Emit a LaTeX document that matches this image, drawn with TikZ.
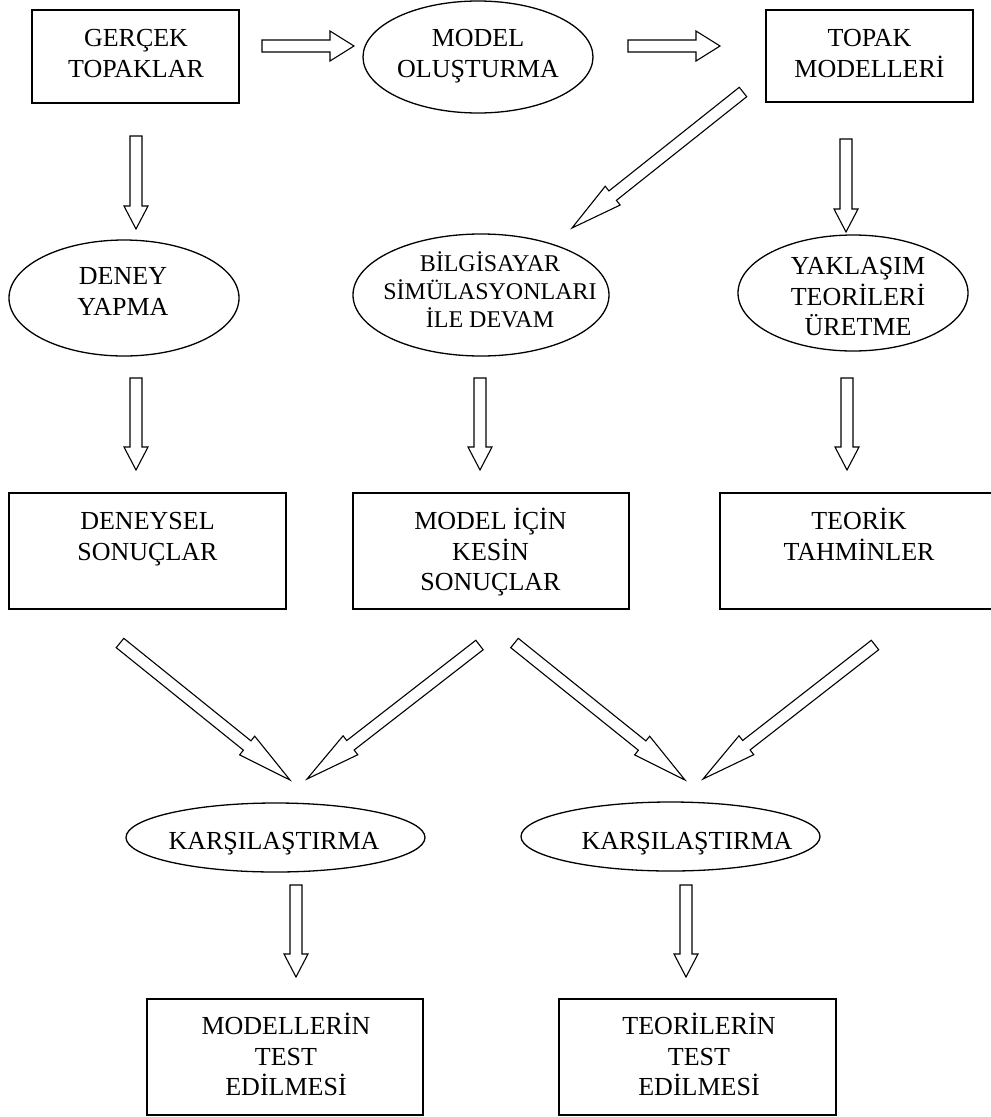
\documentclass[tikz,border=0pt]{standalone}
\usepackage{fontspec}
\setmainfont{Liberation Serif}
\usetikzlibrary{shapes.geometric,calc}
\newcommand{\lines}[1]{\begin{tabular}{@{}c@{}}#1\end{tabular}}
\newcommand{\blkarrow}[4]{%
  \path ($(#2)!#3!(#1)$) coordinate (hb);
  \draw[barrow] ($(#1)!6pt!90:(#2)$) -- ($(hb)!6pt!90:(#2)$) -- ($(hb)!#4!90:(#2)$) -- (#2)
     -- ($(hb)!#4!-90:(#2)$) -- ($(hb)!6pt!-90:(#2)$) -- ($(#1)!6pt!-90:(#2)$) -- cycle;
}
\tikzset{
  box/.style={draw, line width=1.6pt, rectangle, inner sep=0pt},
  ell/.style={draw, line width=1.3pt, ellipse, inner sep=0pt},
  txt/.style={inner sep=0pt, font=\fontsize{26}{30.5}\selectfont},
  smalltxt/.style={inner sep=0pt, font=\fontsize{24}{28}\selectfont},
  barrow/.style={draw, line width=1.1pt, line join=miter, fill=white},
}
\begin{document}
\begin{tikzpicture}[x=1pt,y=-1pt]
\useasboundingbox (0,0) rectangle (991,1117);
\clip (0,0) rectangle (991,1117);
\fill[white] (0,0) rectangle (991,1117);
% row 1
\node[box, minimum width=207pt, minimum height=93pt] (gt) at (135.5,56.5) {};
\node[txt] (gtt) at (136,56) {\lines{GERÇEK\\TOPAKLAR}};
\node[ell, minimum width=230pt, minimum height=112pt] (mo) at (478,57) {};
\node[txt] (mot) at (478,56) {\lines{MODEL\\OLUŞTURMA}};
\node[box, minimum width=207pt, minimum height=92pt] (tm) at (869.5,56) {};
\node[txt] (tmt) at (869.5,56) {\lines{TOPAK\\MODELLERİ}};
% row 2
\node[ell, minimum width=230pt, minimum height=116pt] (dy) at (124,298) {};
\node[txt] (dyt) at (123,294) {\lines{DENEY\\YAPMA}};
\node[ell, minimum width=256pt, minimum height=122pt] (bs) at (481,295) {};
\node[smalltxt] (bst) at (490,294) {\lines{BİLGİSAYAR\\SİMÜLASYONLARI\\İLE DEVAM}};
\node[ell, minimum width=230pt, minimum height=116pt] (yk) at (853,293) {};
\node[txt] (ykt) at (858,299) {\lines{YAKLAŞIM\\TEORİLERİ\\ÜRETME}};
% row 3
\node[box, minimum width=277pt, minimum height=116pt] (ds) at (147.5,551) {};
\node[txt] (dst) at (147.5,539) {\lines{DENEYSEL\\SONUÇLAR}};
\node[box, minimum width=276pt, minimum height=116pt] (mk) at (491,551) {};
\node[txt] (mkt) at (490.5,554) {\lines{MODEL İÇİN\\KESİN\\SONUÇLAR}};
\node[box, minimum width=278pt, minimum height=116pt] (tt) at (859,551) {};
\node[txt] (ttt) at (859,539) {\lines{TEORİK\\TAHMİNLER}};
% row 4
\node[ell, minimum width=299pt, minimum height=69pt] (k1) at (275.5,837.5) {};
\node[txt] (k1t) at (274,844) {KARŞILAŞTIRMA};
\node[ell, minimum width=299pt, minimum height=69pt] (k2) at (670.5,836.5) {};
\node[txt] (k2t) at (687,844) {KARŞILAŞTIRMA};
% row 5
\node[box, minimum width=276pt, minimum height=116pt] (mt) at (285,1057) {};
\node[txt] (mtt) at (286,1059) {\lines{MODELLERİN\\TEST\\EDİLMESİ}};
\node[box, minimum width=277pt, minimum height=116pt] (te) at (697.5,1057) {};
\node[txt] (tet) at (699,1059) {\lines{TEORİLERİN\\TEST\\EDİLMESİ}};
% arrow end points
\coordinate (h1s) at (262,46); \coordinate (h1e) at (354,46);
\coordinate (h2s) at (628,46); \coordinate (h2e) at (720,46);
\coordinate (d1s) at (743,92); \coordinate (d1e) at (572,228);
\coordinate (v1s) at (136,136); \coordinate (v1e) at (136,229);
\coordinate (v2s) at (846,139); \coordinate (v2e) at (846,232);
\coordinate (v3s) at (136,378); \coordinate (v3e) at (136,470);
\coordinate (v4s) at (480,378); \coordinate (v4e) at (480,470);
\coordinate (v5s) at (847,378); \coordinate (v5e) at (847,470);
\coordinate (d2s) at (120,643); \coordinate (d2e) at (290,780);
\coordinate (d3s) at (479.5,645); \coordinate (d3e) at (307,779);
\coordinate (d4s) at (514.5,643); \coordinate (d4e) at (685,780);
\coordinate (d5s) at (875,645); \coordinate (d5e) at (703,779);
\coordinate (v6s) at (296,885); \coordinate (v6e) at (296,977);
\coordinate (v7s) at (686,885); \coordinate (v7e) at (686,977);
% arrows
\blkarrow{h1s}{h1e}{24pt}{15pt}
\blkarrow{h2s}{h2e}{24pt}{15pt}
\blkarrow{d1s}{d1e}{52pt}{12pt}
\blkarrow{v1s}{v1e}{23pt}{12pt}
\blkarrow{v2s}{v2e}{23pt}{12pt}
\blkarrow{v3s}{v3e}{23pt}{12pt}
\blkarrow{v4s}{v4e}{23pt}{12pt}
\blkarrow{v5s}{v5e}{23pt}{12pt}
\blkarrow{d2s}{d2e}{55pt}{12pt}
\blkarrow{d3s}{d3e}{55pt}{12pt}
\blkarrow{d4s}{d4e}{55pt}{12pt}
\blkarrow{d5s}{d5e}{55pt}{12pt}
\blkarrow{v6s}{v6e}{23pt}{12pt}
\blkarrow{v7s}{v7e}{23pt}{12pt}
\end{tikzpicture}
\end{document}
